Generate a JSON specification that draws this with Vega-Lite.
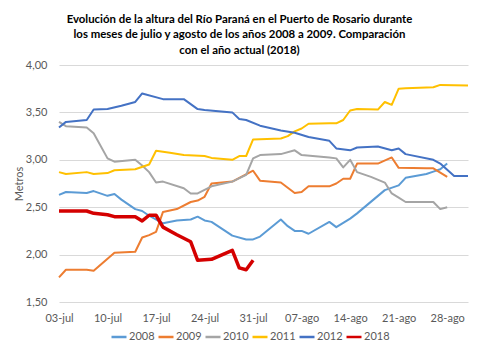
{
  "$schema": "https://vega.github.io/schema/vega-lite/v6.json",
  "width": 409,
  "height": 237,
  "autosize": {"type": "none"},
  "padding": {"left": 59, "top": 65, "right": 11, "bottom": 52},
  "background": "white",
  "title": {
    "text": ["Evolución de la altura del Río Paraná en el Puerto de Rosario durante", "los meses de julio y agosto de los años 2008 a 2009. Comparación", "con el año actual (2018)"],
    "anchor": "middle",
    "frame": "group",
    "dx": -24,
    "font": "Lato",
    "fontSize": 11.4,
    "fontWeight": "bold",
    "color": "#000000",
    "lineHeight": 15.5,
    "offset": 3
  },
  "config": {
    "locale": {
      "number": {"decimal": ",", "thousands": ".", "grouping": [3], "currency": ["$", ""]},
      "time": {
        "dateTime": "%A, %e de %B de %Y, %X",
        "date": "%d/%m/%Y",
        "time": "%H:%M:%S",
        "periods": ["AM", "PM"],
        "days": ["domingo", "lunes", "martes", "miércoles", "jueves", "viernes", "sábado"],
        "shortDays": ["dom", "lun", "mar", "mié", "jue", "vie", "sáb"],
        "months": ["enero", "febrero", "marzo", "abril", "mayo", "junio", "julio", "agosto", "septiembre", "octubre", "noviembre", "diciembre"],
        "shortMonths": ["ene", "feb", "mar", "abr", "may", "jun", "jul", "ago", "sep", "oct", "nov", "dic"]
      }
    },
    "view": {"stroke": null},
    "font": "Lato",
    "axis": {"labelFont": "Lato", "labelFontSize": 11, "labelColor": "#595959", "titleFont": "Lato", "titleColor": "#595959", "titleFontSize": 11, "titleFontWeight": "normal"}
  },
  "data": {"values": [
    {"serie": "2008", "fecha": "2018-07-03", "metros": 2.63},
    {"serie": "2008", "fecha": "2018-07-04", "metros": 2.66},
    {"serie": "2008", "fecha": "2018-07-07", "metros": 2.65},
    {"serie": "2008", "fecha": "2018-07-08", "metros": 2.67},
    {"serie": "2008", "fecha": "2018-07-10", "metros": 2.62},
    {"serie": "2008", "fecha": "2018-07-11", "metros": 2.64},
    {"serie": "2008", "fecha": "2018-07-12", "metros": 2.58},
    {"serie": "2008", "fecha": "2018-07-14", "metros": 2.48},
    {"serie": "2008", "fecha": "2018-07-15", "metros": 2.46},
    {"serie": "2008", "fecha": "2018-07-16", "metros": 2.41},
    {"serie": "2008", "fecha": "2018-07-18", "metros": 2.33},
    {"serie": "2008", "fecha": "2018-07-20", "metros": 2.36},
    {"serie": "2008", "fecha": "2018-07-22", "metros": 2.37},
    {"serie": "2008", "fecha": "2018-07-23", "metros": 2.40},
    {"serie": "2008", "fecha": "2018-07-24", "metros": 2.36},
    {"serie": "2008", "fecha": "2018-07-25", "metros": 2.345},
    {"serie": "2008", "fecha": "2018-07-28", "metros": 2.20},
    {"serie": "2008", "fecha": "2018-07-30", "metros": 2.16},
    {"serie": "2008", "fecha": "2018-07-31", "metros": 2.16},
    {"serie": "2008", "fecha": "2018-08-01", "metros": 2.19},
    {"serie": "2008", "fecha": "2018-08-04", "metros": 2.37},
    {"serie": "2008", "fecha": "2018-08-05", "metros": 2.30},
    {"serie": "2008", "fecha": "2018-08-06", "metros": 2.25},
    {"serie": "2008", "fecha": "2018-08-07", "metros": 2.25},
    {"serie": "2008", "fecha": "2018-08-08", "metros": 2.22},
    {"serie": "2008", "fecha": "2018-08-11", "metros": 2.345},
    {"serie": "2008", "fecha": "2018-08-12", "metros": 2.29},
    {"serie": "2008", "fecha": "2018-08-14", "metros": 2.38},
    {"serie": "2008", "fecha": "2018-08-15", "metros": 2.435},
    {"serie": "2008", "fecha": "2018-08-19", "metros": 2.68},
    {"serie": "2008", "fecha": "2018-08-21", "metros": 2.73},
    {"serie": "2008", "fecha": "2018-08-22", "metros": 2.81},
    {"serie": "2008", "fecha": "2018-08-25", "metros": 2.85},
    {"serie": "2008", "fecha": "2018-08-26", "metros": 2.875},
    {"serie": "2008", "fecha": "2018-08-27", "metros": 2.90},
    {"serie": "2008", "fecha": "2018-08-28", "metros": 2.96},

    {"serie": "2009", "fecha": "2018-07-03", "metros": 1.76},
    {"serie": "2009", "fecha": "2018-07-04", "metros": 1.84},
    {"serie": "2009", "fecha": "2018-07-07", "metros": 1.84},
    {"serie": "2009", "fecha": "2018-07-08", "metros": 1.83},
    {"serie": "2009", "fecha": "2018-07-11", "metros": 2.02},
    {"serie": "2009", "fecha": "2018-07-14", "metros": 2.03},
    {"serie": "2009", "fecha": "2018-07-15", "metros": 2.18},
    {"serie": "2009", "fecha": "2018-07-16", "metros": 2.205},
    {"serie": "2009", "fecha": "2018-07-17", "metros": 2.24},
    {"serie": "2009", "fecha": "2018-07-18", "metros": 2.45},
    {"serie": "2009", "fecha": "2018-07-20", "metros": 2.48},
    {"serie": "2009", "fecha": "2018-07-22", "metros": 2.555},
    {"serie": "2009", "fecha": "2018-07-23", "metros": 2.57},
    {"serie": "2009", "fecha": "2018-07-24", "metros": 2.61},
    {"serie": "2009", "fecha": "2018-07-25", "metros": 2.75},
    {"serie": "2009", "fecha": "2018-07-28", "metros": 2.77},
    {"serie": "2009", "fecha": "2018-07-31", "metros": 2.885},
    {"serie": "2009", "fecha": "2018-08-01", "metros": 2.78},
    {"serie": "2009", "fecha": "2018-08-04", "metros": 2.76},
    {"serie": "2009", "fecha": "2018-08-06", "metros": 2.65},
    {"serie": "2009", "fecha": "2018-08-07", "metros": 2.66},
    {"serie": "2009", "fecha": "2018-08-08", "metros": 2.72},
    {"serie": "2009", "fecha": "2018-08-11", "metros": 2.72},
    {"serie": "2009", "fecha": "2018-08-12", "metros": 2.75},
    {"serie": "2009", "fecha": "2018-08-13", "metros": 2.80},
    {"serie": "2009", "fecha": "2018-08-14", "metros": 2.80},
    {"serie": "2009", "fecha": "2018-08-15", "metros": 2.96},
    {"serie": "2009", "fecha": "2018-08-18", "metros": 2.96},
    {"serie": "2009", "fecha": "2018-08-20", "metros": 3.025},
    {"serie": "2009", "fecha": "2018-08-21", "metros": 2.915},
    {"serie": "2009", "fecha": "2018-08-25", "metros": 2.91},
    {"serie": "2009", "fecha": "2018-08-26", "metros": 2.91},
    {"serie": "2009", "fecha": "2018-08-28", "metros": 2.82},

    {"serie": "2010", "fecha": "2018-07-03", "metros": 3.40},
    {"serie": "2010", "fecha": "2018-07-04", "metros": 3.355},
    {"serie": "2010", "fecha": "2018-07-07", "metros": 3.34},
    {"serie": "2010", "fecha": "2018-07-08", "metros": 3.28},
    {"serie": "2010", "fecha": "2018-07-10", "metros": 3.015},
    {"serie": "2010", "fecha": "2018-07-11", "metros": 2.98},
    {"serie": "2010", "fecha": "2018-07-14", "metros": 3.00},
    {"serie": "2010", "fecha": "2018-07-15", "metros": 2.94},
    {"serie": "2010", "fecha": "2018-07-16", "metros": 2.87},
    {"serie": "2010", "fecha": "2018-07-17", "metros": 2.76},
    {"serie": "2010", "fecha": "2018-07-18", "metros": 2.77},
    {"serie": "2010", "fecha": "2018-07-21", "metros": 2.70},
    {"serie": "2010", "fecha": "2018-07-22", "metros": 2.645},
    {"serie": "2010", "fecha": "2018-07-23", "metros": 2.645},
    {"serie": "2010", "fecha": "2018-07-25", "metros": 2.72},
    {"serie": "2010", "fecha": "2018-07-28", "metros": 2.77},
    {"serie": "2010", "fecha": "2018-07-30", "metros": 2.84},
    {"serie": "2010", "fecha": "2018-07-31", "metros": 3.015},
    {"serie": "2010", "fecha": "2018-08-01", "metros": 3.05},
    {"serie": "2010", "fecha": "2018-08-04", "metros": 3.06},
    {"serie": "2010", "fecha": "2018-08-06", "metros": 3.10},
    {"serie": "2010", "fecha": "2018-08-07", "metros": 3.05},
    {"serie": "2010", "fecha": "2018-08-11", "metros": 3.025},
    {"serie": "2010", "fecha": "2018-08-12", "metros": 3.015},
    {"serie": "2010", "fecha": "2018-08-13", "metros": 2.92},
    {"serie": "2010", "fecha": "2018-08-14", "metros": 3.00},
    {"serie": "2010", "fecha": "2018-08-15", "metros": 2.87},
    {"serie": "2010", "fecha": "2018-08-17", "metros": 2.82},
    {"serie": "2010", "fecha": "2018-08-19", "metros": 2.76},
    {"serie": "2010", "fecha": "2018-08-20", "metros": 2.645},
    {"serie": "2010", "fecha": "2018-08-21", "metros": 2.60},
    {"serie": "2010", "fecha": "2018-08-22", "metros": 2.555},
    {"serie": "2010", "fecha": "2018-08-26", "metros": 2.555},
    {"serie": "2010", "fecha": "2018-08-27", "metros": 2.48},
    {"serie": "2010", "fecha": "2018-08-28", "metros": 2.50},

    {"serie": "2011", "fecha": "2018-07-03", "metros": 2.87},
    {"serie": "2011", "fecha": "2018-07-04", "metros": 2.85},
    {"serie": "2011", "fecha": "2018-07-07", "metros": 2.87},
    {"serie": "2011", "fecha": "2018-07-08", "metros": 2.85},
    {"serie": "2011", "fecha": "2018-07-10", "metros": 2.86},
    {"serie": "2011", "fecha": "2018-07-11", "metros": 2.89},
    {"serie": "2011", "fecha": "2018-07-14", "metros": 2.90},
    {"serie": "2011", "fecha": "2018-07-16", "metros": 2.95},
    {"serie": "2011", "fecha": "2018-07-17", "metros": 3.095},
    {"serie": "2011", "fecha": "2018-07-19", "metros": 3.075},
    {"serie": "2011", "fecha": "2018-07-21", "metros": 3.05},
    {"serie": "2011", "fecha": "2018-07-24", "metros": 3.04},
    {"serie": "2011", "fecha": "2018-07-25", "metros": 3.02},
    {"serie": "2011", "fecha": "2018-07-28", "metros": 3.00},
    {"serie": "2011", "fecha": "2018-07-29", "metros": 3.04},
    {"serie": "2011", "fecha": "2018-07-30", "metros": 3.04},
    {"serie": "2011", "fecha": "2018-07-31", "metros": 3.215},
    {"serie": "2011", "fecha": "2018-08-04", "metros": 3.225},
    {"serie": "2011", "fecha": "2018-08-05", "metros": 3.25},
    {"serie": "2011", "fecha": "2018-08-06", "metros": 3.30},
    {"serie": "2011", "fecha": "2018-08-07", "metros": 3.33},
    {"serie": "2011", "fecha": "2018-08-08", "metros": 3.38},
    {"serie": "2011", "fecha": "2018-08-11", "metros": 3.385},
    {"serie": "2011", "fecha": "2018-08-12", "metros": 3.385},
    {"serie": "2011", "fecha": "2018-08-13", "metros": 3.42},
    {"serie": "2011", "fecha": "2018-08-14", "metros": 3.52},
    {"serie": "2011", "fecha": "2018-08-15", "metros": 3.535},
    {"serie": "2011", "fecha": "2018-08-18", "metros": 3.53},
    {"serie": "2011", "fecha": "2018-08-19", "metros": 3.61},
    {"serie": "2011", "fecha": "2018-08-20", "metros": 3.58},
    {"serie": "2011", "fecha": "2018-08-21", "metros": 3.75},
    {"serie": "2011", "fecha": "2018-08-22", "metros": 3.755},
    {"serie": "2011", "fecha": "2018-08-26", "metros": 3.765},
    {"serie": "2011", "fecha": "2018-08-27", "metros": 3.79},
    {"serie": "2011", "fecha": "2018-08-31", "metros": 3.785},

    {"serie": "2012", "fecha": "2018-07-03", "metros": 3.34},
    {"serie": "2012", "fecha": "2018-07-04", "metros": 3.40},
    {"serie": "2012", "fecha": "2018-07-07", "metros": 3.42},
    {"serie": "2012", "fecha": "2018-07-08", "metros": 3.53},
    {"serie": "2012", "fecha": "2018-07-10", "metros": 3.535},
    {"serie": "2012", "fecha": "2018-07-12", "metros": 3.57},
    {"serie": "2012", "fecha": "2018-07-14", "metros": 3.61},
    {"serie": "2012", "fecha": "2018-07-15", "metros": 3.70},
    {"serie": "2012", "fecha": "2018-07-18", "metros": 3.64},
    {"serie": "2012", "fecha": "2018-07-21", "metros": 3.64},
    {"serie": "2012", "fecha": "2018-07-23", "metros": 3.535},
    {"serie": "2012", "fecha": "2018-07-24", "metros": 3.525},
    {"serie": "2012", "fecha": "2018-07-28", "metros": 3.50},
    {"serie": "2012", "fecha": "2018-07-29", "metros": 3.43},
    {"serie": "2012", "fecha": "2018-07-30", "metros": 3.42},
    {"serie": "2012", "fecha": "2018-08-01", "metros": 3.36},
    {"serie": "2012", "fecha": "2018-08-04", "metros": 3.31},
    {"serie": "2012", "fecha": "2018-08-06", "metros": 3.285},
    {"serie": "2012", "fecha": "2018-08-08", "metros": 3.24},
    {"serie": "2012", "fecha": "2018-08-11", "metros": 3.20},
    {"serie": "2012", "fecha": "2018-08-12", "metros": 3.12},
    {"serie": "2012", "fecha": "2018-08-14", "metros": 3.10},
    {"serie": "2012", "fecha": "2018-08-15", "metros": 3.13},
    {"serie": "2012", "fecha": "2018-08-18", "metros": 3.14},
    {"serie": "2012", "fecha": "2018-08-20", "metros": 3.10},
    {"serie": "2012", "fecha": "2018-08-21", "metros": 3.12},
    {"serie": "2012", "fecha": "2018-08-22", "metros": 3.06},
    {"serie": "2012", "fecha": "2018-08-26", "metros": 3.00},
    {"serie": "2012", "fecha": "2018-08-27", "metros": 2.96},
    {"serie": "2012", "fecha": "2018-08-29", "metros": 2.83},
    {"serie": "2012", "fecha": "2018-08-31", "metros": 2.83},

    {"serie": "2018", "fecha": "2018-07-03", "metros": 2.46},
    {"serie": "2018", "fecha": "2018-07-07", "metros": 2.46},
    {"serie": "2018", "fecha": "2018-07-08", "metros": 2.435},
    {"serie": "2018", "fecha": "2018-07-10", "metros": 2.42},
    {"serie": "2018", "fecha": "2018-07-11", "metros": 2.40},
    {"serie": "2018", "fecha": "2018-07-14", "metros": 2.40},
    {"serie": "2018", "fecha": "2018-07-15", "metros": 2.355},
    {"serie": "2018", "fecha": "2018-07-16", "metros": 2.415},
    {"serie": "2018", "fecha": "2018-07-17", "metros": 2.415},
    {"serie": "2018", "fecha": "2018-07-18", "metros": 2.29},
    {"serie": "2018", "fecha": "2018-07-20", "metros": 2.21},
    {"serie": "2018", "fecha": "2018-07-22", "metros": 2.135},
    {"serie": "2018", "fecha": "2018-07-23", "metros": 1.94},
    {"serie": "2018", "fecha": "2018-07-25", "metros": 1.95},
    {"serie": "2018", "fecha": "2018-07-28", "metros": 2.045},
    {"serie": "2018", "fecha": "2018-07-29", "metros": 1.86},
    {"serie": "2018", "fecha": "2018-07-30", "metros": 1.84},
    {"serie": "2018", "fecha": "2018-07-31", "metros": 1.94}
  ]},
  "mark": {"type": "line", "strokeJoin": "round", "strokeCap": "butt"},
  "encoding": {
    "x": {
      "field": "fecha", "type": "temporal", "timeUnit": "utcyearmonthdate",
      "scale": {"domain": [{"year": 2018, "month": 7, "date": 3, "utc": true}, {"year": 2018, "month": 8, "date": 31, "utc": true}]},
      "axis": {
        "title": null, "format": "%d-%b", "grid": false, "ticks": false, "domain": false, "labelPadding": 10, "labelFlush": false,
        "values": [
          {"year": 2018, "month": 7, "date": 3, "utc": true},
          {"year": 2018, "month": 7, "date": 10, "utc": true},
          {"year": 2018, "month": 7, "date": 17, "utc": true},
          {"year": 2018, "month": 7, "date": 24, "utc": true},
          {"year": 2018, "month": 7, "date": 31, "utc": true},
          {"year": 2018, "month": 8, "date": 7, "utc": true},
          {"year": 2018, "month": 8, "date": 14, "utc": true},
          {"year": 2018, "month": 8, "date": 21, "utc": true},
          {"year": 2018, "month": 8, "date": 28, "utc": true}
        ]
      }
    },
    "y": {
      "field": "metros", "type": "quantitative",
      "scale": {"domain": [1.5, 4], "nice": false, "zero": false},
      "axis": {"title": "Metros", "format": ".2f", "values": [1.5, 2, 2.5, 3, 3.5, 4], "ticks": false, "domain": false, "labelPadding": 12, "titlePadding": 1, "gridColor": "#d9d9d9", "gridWidth": 1}
    },
    "color": {
      "field": "serie", "type": "nominal",
      "scale": {"domain": ["2008", "2009", "2010", "2011", "2012", "2018"], "range": ["#5B9BD5", "#ED7D31", "#A5A5A5", "#FFC000", "#4472C4", "#D40000"]},
      "legend": {"title": null, "orient": "none", "legendX": 51, "legendY": 263, "direction": "horizontal", "symbolType": "stroke", "symbolStrokeWidth": 2.5, "symbolSize": 225, "labelFontSize": 11, "labelColor": "#595959", "labelFont": "Lato", "columnPadding": -2, "labelOffset": 1}
    },
    "strokeWidth": {"condition": {"test": "datum.serie === '2018'", "value": 3.5}, "value": 2}
  }
}
